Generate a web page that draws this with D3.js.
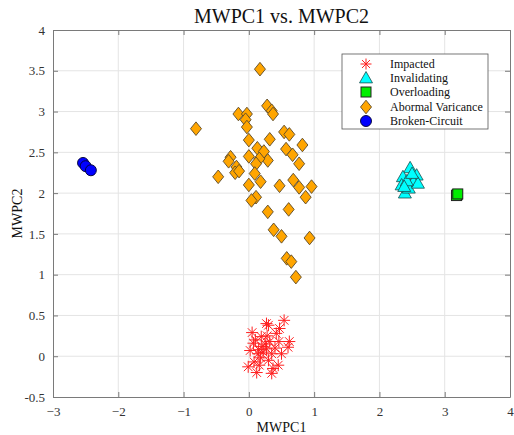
<!DOCTYPE html>
<html><head><meta charset="utf-8">
<script src="https://cdn.jsdelivr.net/npm/d3@7"></script>
<style>body{margin:0;background:#fff}svg{display:block}text{font-family:"Liberation Serif","Times New Roman",serif}</style>
</head><body><svg id="c" width="514" height="435"></svg>
<script>
const xTicks = [-3,-2,-1,0,1,2,3,4];
const yTicks = [-0.5,0,0.5,1,1.5,2,2.5,3,3.5,4];
const seriesNames = ["Impacted","Invalidating","Overloading","Abormal Varicance","Broken-Circuit"];
const impacted = [[0.27,0.40],[0.30,0.38],[0.54,0.44],[0.47,0.34],[0.05,0.29],[0.19,0.24],[0.07,0.16],[0.32,0.18],[0.46,0.18],[0.62,0.18],[0.60,0.11],[0.27,0.09],[0.22,0.05],[0.02,0.07],[0.14,0.03],[0.35,0.03],[0.50,0.03],[0.08,-0.07],[-0.01,-0.13],[0.12,-0.20],[0.37,-0.15],[0.35,-0.21],[0.45,-0.11],[0.16,-0.11],[0.25,0.15],[0.20,0.12],[0.30,-0.05],[0.40,0.10],[0.10,0.20],[0.18,-0.02],[0.28,0.25],[0.42,0.28],[0.15,0.08]];
const invalidating = [[2.47,2.31],[2.36,2.20],[2.34,2.10],[2.57,2.22],[2.52,2.14],[2.39,2.00],[2.45,2.06],[2.59,2.12],[2.42,2.15],[2.50,2.24],[2.38,2.08]];
const overloading = [[3.19,1.98],[3.18,1.97],[3.20,1.99]];
const abnormal = [[0.17,3.52],[-0.81,2.79],[-0.16,2.97],[-0.03,2.97],[-0.05,2.90],[-0.03,2.81],[0.28,3.07],[0.35,3.01],[0.37,2.97],[0.00,2.65],[0.32,2.66],[0.54,2.75],[0.62,2.72],[0.82,2.59],[0.57,2.54],[0.67,2.47],[0.77,2.36],[0.13,2.55],[0.23,2.51],[0.29,2.40],[0.16,2.42],[0.11,2.36],[0.00,2.45],[-0.28,2.44],[-0.31,2.39],[-0.19,2.32],[-0.21,2.25],[-0.47,2.20],[0.09,2.24],[0.18,2.14],[0.00,2.10],[0.47,2.09],[0.68,2.16],[0.77,2.07],[0.96,2.08],[0.87,1.95],[0.11,1.95],[0.04,1.91],[0.29,1.77],[0.61,1.80],[0.38,1.55],[0.50,1.47],[0.93,1.45],[0.58,1.20],[0.65,1.16],[0.72,0.97],[-0.15,2.27]];
const broken = [[-2.54,2.37],[-2.50,2.33],[-2.42,2.28]];

const svg = d3.select("#c");
const L=53,R=510,T=30,B=397;
const x = d3.scaleLinear().domain([-3,4]).range([L,R]);
const y = d3.scaleLinear().domain([-0.5,4]).range([B,T]);
const axisCol="#7a7a7a", gridCol="#e4e4e4", txtCol="#333";
const serif="Liberation Serif, Times New Roman, serif";

// grid
svg.append("g").selectAll("line").data(xTicks.slice(1,-1)).join("line")
  .attr("x1",d=>x(d)).attr("x2",d=>x(d)).attr("y1",T).attr("y2",B).attr("stroke",gridCol);
svg.append("g").selectAll("line").data(yTicks.slice(1,-1)).join("line")
  .attr("y1",d=>y(d)).attr("y2",d=>y(d)).attr("x1",L).attr("x2",R).attr("stroke",gridCol);

// axes
const ax = (g)=>{g.attr("font-family",serif).attr("font-size",13);g.selectAll(".domain").attr("stroke",axisCol);g.selectAll(".tick line").attr("stroke",axisCol);g.selectAll("text").attr("fill",txtCol).attr("font-family",serif).style("font-family",serif).style("font-size","13px");};
svg.append("g").attr("transform",`translate(0,${B})`).call(d3.axisBottom(x).tickValues(xTicks).tickSize(-5).tickPadding(10).tickSizeOuter(0).tickFormat(d3.format("d"))).call(ax);
svg.append("g").attr("transform",`translate(0,${T})`).call(d3.axisTop(x).tickValues(xTicks).tickSize(-5).tickSizeOuter(0).tickFormat("")).call(ax);
svg.append("g").attr("transform",`translate(${L},0)`).call(d3.axisLeft(y).tickValues(yTicks).tickSize(-5).tickPadding(8).tickSizeOuter(0).tickFormat(d=>d)).call(ax);
svg.append("g").attr("transform",`translate(${R},0)`).call(d3.axisRight(y).tickValues(yTicks).tickSize(-5).tickSizeOuter(0).tickFormat("")).call(ax);

// markers
const drawStar=(g,cx,cy,s)=>{
  const p = d3.path();
  p.moveTo(cx-s,cy);p.lineTo(cx+s,cy);p.moveTo(cx,cy-s);p.lineTo(cx,cy+s);
  const d=s*0.72;p.moveTo(cx-d,cy-d);p.lineTo(cx+d,cy+d);p.moveTo(cx-d,cy+d);p.lineTo(cx+d,cy-d);
  g.append("path").attr("d",p.toString()).attr("stroke","#ff2020").attr("stroke-width",1).attr("fill","none");
};
const drawTri=(g,cx,cy,s)=>g.append("path").attr("d",`M${cx},${cy-s}L${cx+s},${cy+s*0.75}L${cx-s},${cy+s*0.75}Z`).attr("fill","#00ffff").attr("stroke","#1a4d4d").attr("stroke-width",0.8);
const drawSq=(g,cx,cy,s)=>g.append("rect").attr("x",cx-s).attr("y",cy-s).attr("width",2*s).attr("height",2*s).attr("fill","#00ee00").attr("stroke","#222").attr("stroke-width",1);
const drawDia=(g,cx,cy,w,h)=>g.append("path").attr("d",`M${cx},${cy-h}L${cx+w},${cy}L${cx},${cy+h}L${cx-w},${cy}Z`).attr("fill","#ffa500").attr("stroke","#5a4a2a").attr("stroke-width",0.9);
const drawCirc=(g,cx,cy,r)=>g.append("circle").attr("cx",cx).attr("cy",cy).attr("r",r).attr("fill","#0000ff").attr("stroke","#000030").attr("stroke-width",0.9);

const gm = svg.append("g");
impacted.forEach(d=>drawStar(gm,x(d[0]),y(d[1]),6));
invalidating.forEach(d=>drawTri(gm,x(d[0]),y(d[1]),6.5));
overloading.forEach(d=>drawSq(gm,x(d[0]),y(d[1]),5));
abnormal.forEach(d=>drawDia(gm,x(d[0]),y(d[1]),5.5,6.8));
broken.forEach(d=>drawCirc(gm,x(d[0]),y(d[1]),5.5));

// legend
const lg = svg.append("g");
lg.append("rect").attr("x",342).attr("y",54).attr("width",146).attr("height",75).attr("fill","#fff").attr("stroke","#555").attr("stroke-width",0.8);
const ly=[64,78,92,107,121], mx=366;
drawStar(lg,mx,ly[0],5.5);
drawTri(lg,mx,ly[1],6.5);
drawSq(lg,mx,ly[2],5);
drawDia(lg,mx,ly[3],5.5,6.8);
drawCirc(lg,mx,ly[4],5.5);
lg.selectAll("text").data(seriesNames).join("text").attr("x",390).attr("y",(d,i)=>ly[i]+4).attr("fill","#111").style("font-size","12px").text(d=>d);

// titles
svg.append("text").attr("x",(L+R)/2).attr("y",23).attr("text-anchor","middle").style("font-size","20px").attr("fill","#111").text("MWPC1 vs. MWPC2");
svg.append("text").attr("x",(L+R)/2).attr("y",432).attr("text-anchor","middle").style("font-size","14px").attr("fill","#111").text("MWPC1");
svg.append("text").attr("transform",`translate(22,${(T+B)/2}) rotate(-90)`).attr("text-anchor","middle").style("font-size","14px").attr("fill","#111").text("MWPC2");
</script></body></html>
